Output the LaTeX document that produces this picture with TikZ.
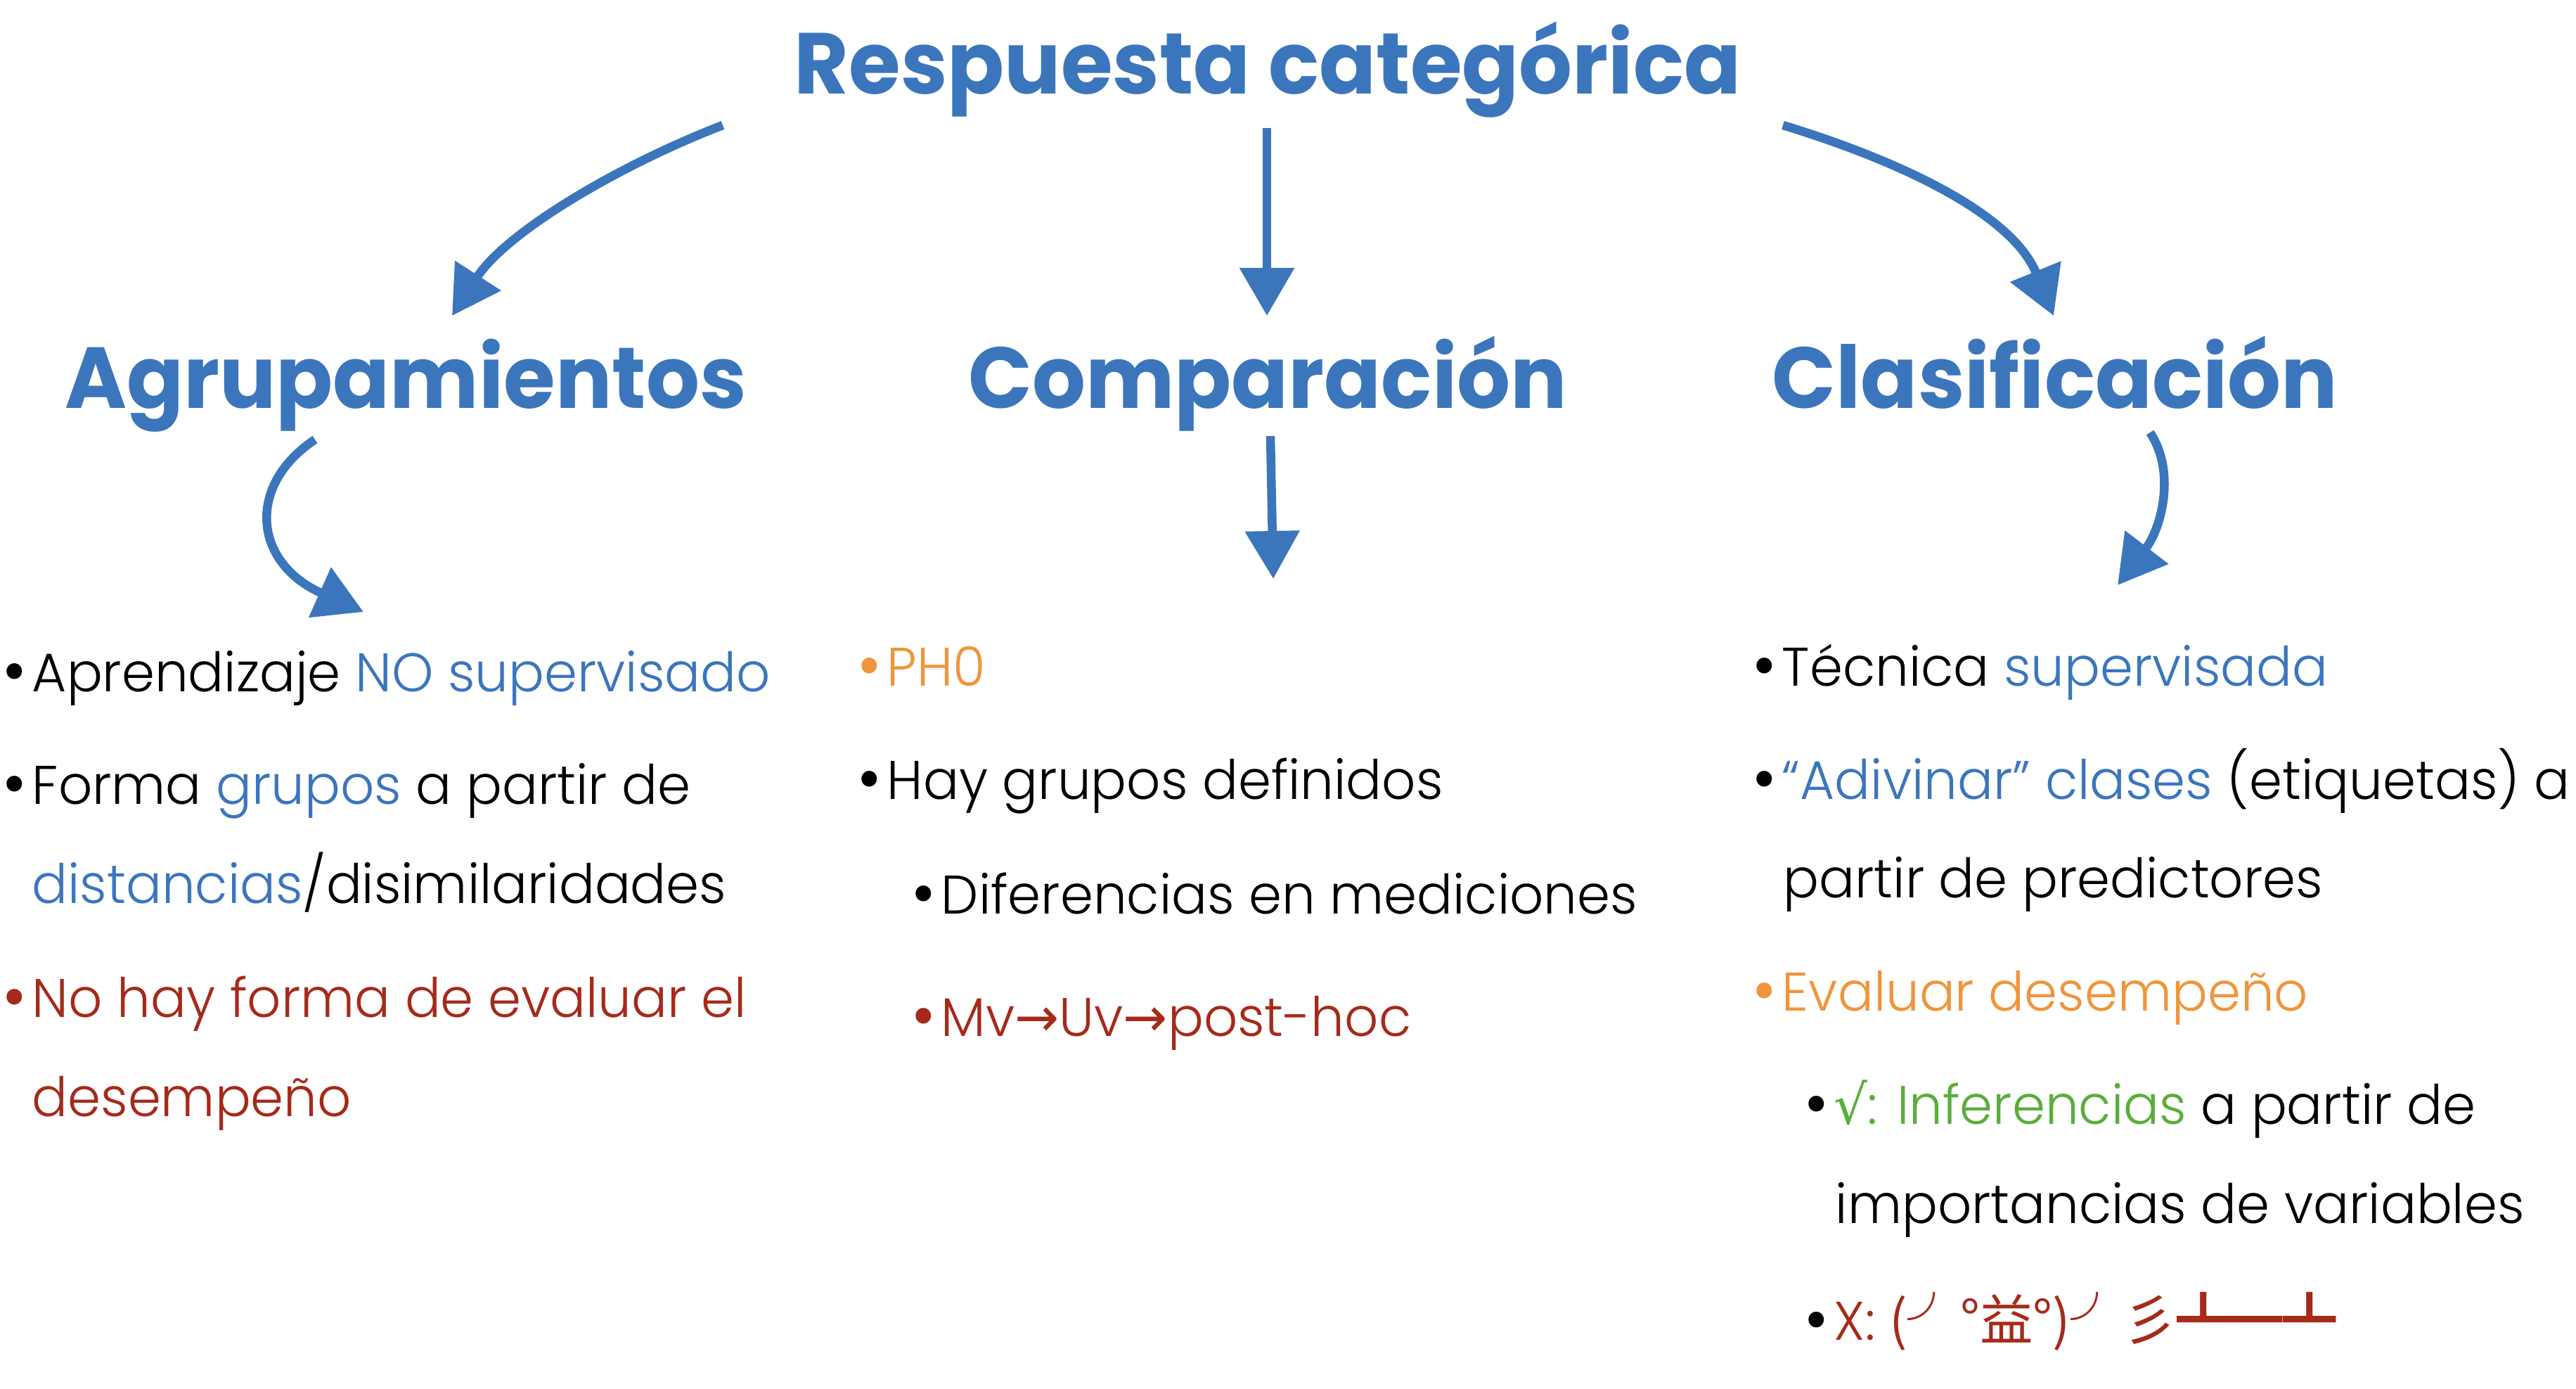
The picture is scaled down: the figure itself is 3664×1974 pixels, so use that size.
\documentclass[tikz,border=0pt]{standalone}
\usepackage{fontspec}
\usepackage{graphicx}
\setmainfont{Poppins}[UprightFont=* Light, BoldFont=* Bold]
\newfontfamily\symf{DejaVu Sans}
\newfontfamily\cjk{Noto Sans CJK SC}
\usetikzlibrary{arrows.meta}
\definecolor{cblue}{RGB}{59,118,189}
\definecolor{corange}{RGB}{239,150,60}
\definecolor{cred}{RGB}{166,42,26}
\definecolor{cgreen}{RGB}{90,174,60}
\newcommand\bul{\makebox[0.35cm][l]{\hspace{-0.17em}\symf •}}
\newcommand\tsq[1]{\scalebox{0.97}[1]{#1}}
\newcommand\bsq[1]{\scalebox{0.975}[1]{#1}}
\begin{document}
\begin{tikzpicture}[x=0.01cm,y=-0.01cm,
 title/.style={font=\fontsize{35pt}{40pt}\selectfont\bfseries, text=cblue, inner sep=0pt, anchor=base},
 body/.style={font=\fontsize{22pt}{26pt}\selectfont, inner sep=0pt, anchor=base west},
 arr/.style={draw=cblue, line width=0.125cm, -{Triangle[length=0.68cm,width=0.75cm]}}]
\useasboundingbox (0,0) rectangle (3664,1974);
\fill[white] (0,0) rectangle (3664,1974);

% titles
\node[title] (root) at (1803,133) {\tsq{Respuesta categórica}};
\node[title] (agr) at (577,580) {\tsq{Agrupamientos}};
\node[title] (comp) at (1803,580) {\tsq{Comparación}};
\node[title] (clas) at (2923,580) {\tsq{Clasificación}};

% arrows
\coordinate (a1s) at (1028,178); \coordinate (a1e) at (643,449);
\coordinate (a2s) at (1802,182); \coordinate (a2e) at (1802,449);
\coordinate (a3s) at (2536,178); \coordinate (a3e) at (2921,449);
\coordinate (a4s) at (448,625);  \coordinate (a4e) at (517,870);
\coordinate (a5s) at (1807,620); \coordinate (a5e) at (1811,823);
\coordinate (a6s) at (3058,615); \coordinate (a6e) at (3012,832);
\draw[arr] (a1s) .. controls (880,235) and (720,330) .. (a1e);
\draw[arr] (a2s) -- (a2e);
\draw[arr] (a3s) .. controls (2690,225) and (2860,300) .. (a3e);
\draw[arr] (a4s) .. controls (350,690) and (360,800) .. (a4e);
\draw[arr] (a5s) -- (a5e);
\draw[arr] (a6s) .. controls (3095,670) and (3075,750) .. (a6e);

% left column
\node[body] (l1) at (11,983) {\bsq{\bul Aprendizaje \textcolor{cblue}{NO supervisado}}};
\node[body] (l2) at (11,1143) {\bsq{\bul Forma \textcolor{cblue}{grupos} a partir de}};
\node[body] (l3) at (45,1284) {\bsq{\textcolor{cblue}{distancias}/disimilaridades}};
\node[body,text=cred] (l4) at (11,1446) {\bsq{\bul No hay forma de evaluar el}};
\node[body,text=cred] (l5) at (45,1587) {\bsq{desempeño}};

% middle column
\node[body,text=corange] (m1) at (1227,975) {\bsq{\bul PH0}};
\node[body] (m2) at (1227,1136) {\bsq{\bul Hay grupos definidos}};
\node[body] (m3) at (1304,1299) {\bsq{\bul Diferencias en mediciones}};
\node[body,text=cred] (m4) at (1304,1473) {\bsq{\bul Mv{\symf →}Uv{\symf →}post-hoc}};

% right column
\node[body] (r1) at (2500,975) {\bsq{\bul Técnica \textcolor{cblue}{supervisada}}};
\node[body] (r2) at (2500,1136) {\bsq{\bul\textcolor{cblue}{“Adivinar” clases} (etiquetas) a}};
\node[body] (r3) at (2536,1276) {\bsq{partir de predictores}};
\node[body,text=corange] (r4) at (2500,1437) {\bsq{\bul Evaluar desempeño}};
\node[body] (r5) at (2574,1598) {\bsq{\bul\textcolor{cgreen}{{\symf √}: Inferencias} a partir de}};
\node[body] (r6) at (2610,1739) {\bsq{importancias de variables}};
\node[body] (r7) at (2574,1905) {\bsq{\bul\textcolor{cred}{X: {\cjk (╯°益°)╯彡┻━┻}}}};
\end{tikzpicture}
\end{document}
